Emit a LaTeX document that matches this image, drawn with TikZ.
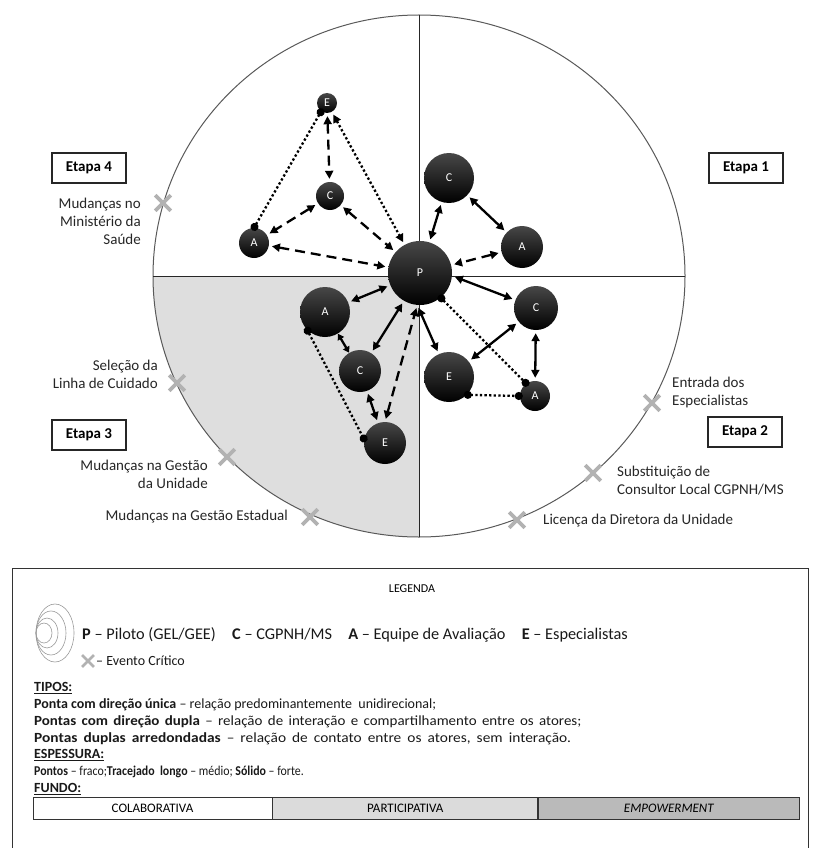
\documentclass[tikz,border=0pt]{standalone}
\usepackage{fontspec}
\setmainfont{Carlito}
\usetikzlibrary{arrows.meta}
\usetikzlibrary{shapes.misc}
\usetikzlibrary{positioning}

\tikzset{
  ator/.style={circle, top color=black!72, bottom color=black, text=white,
    font=\fontsize{12}{14}\selectfont, inner sep=0pt, minimum size=#1},
  etapa/.style={draw=black!85, line width=1.1pt, minimum width=74pt,
    minimum height=30pt, font=\fontsize{15}{18}\selectfont\bfseries},
  evento/.style={cross out, draw=black!30, line width=3.6pt, minimum size=12pt,
    inner sep=0pt},
  rotulo/.style={font=\fontsize{15}{18}\selectfont, text=black!85, inner sep=0pt},
  liga/.style={line width=2.3pt, shorten >=3pt, shorten <=3pt},
  forte/.style={liga, {Triangle[length=8pt,width=8pt]}-{Triangle[length=8pt,width=8pt]}},
  medio/.style={liga, dash pattern=on 10pt off 6pt,
    {Triangle[length=8pt,width=8pt]}-{Triangle[length=8pt,width=8pt]}},
  fraco/.style={liga, dash pattern=on 2.3pt off 2.3pt,
    {Triangle[length=8pt,width=8pt]}-{Triangle[length=8pt,width=8pt]}},
  contato/.style={line width=2.3pt, dash pattern=on 2.3pt off 2.3pt,
    shorten >=-3pt, shorten <=-3pt, {Circle[length=8pt]}-{Circle[length=8pt]}},
  texto/.style={anchor=west, font=\fontsize{14}{16}\selectfont, text=black!90, inner sep=0pt},
  celula/.style={draw=black!80, line width=0.8pt, minimum height=22pt,
    font=\fontsize{13}{15}\selectfont, inner sep=0pt},
}

\begin{document}
\begin{tikzpicture}[x=1pt, y=-1pt]
  \useasboundingbox (0,0) rectangle (819,848);

  % Background quadrant
  \fill[black!13] (419,276) -- (153,276)
    arc[start angle=180, end angle=90, x radius=266, y radius=261] -- cycle;

  % Circle and axes
  \draw[black!65, line width=1pt] (419,276) ellipse [x radius=266, y radius=261];
  \draw[black!85, line width=1pt] (419,15) -- (419,537);
  \draw[black!85, line width=1pt] (153,276) -- (685,276);

  % Stages
  \node[etapa] (etapa1) at (746,168) {Etapa 1};
  \node[etapa] (etapa2) at (745,432) {Etapa 2};
  \node[etapa] (etapa3) at (89,435) {Etapa 3};
  \node[etapa] (etapa4) at (89,168) {Etapa 4};

  % Critical events
  \node[evento] (ev1) at (163,203) {};
  \node[evento] (ev2) at (177,383) {};
  \node[evento] (ev3) at (227,457) {};
  \node[evento] (ev4) at (310,517) {};
  \node[evento] (ev5) at (652,403) {};
  \node[evento] (ev6) at (593,473) {};
  \node[evento] (ev7) at (517,520) {};
  \node[rotulo, align=right, anchor=east] at (141,221)
    {Mudanças no\\Ministério da\\Saúde};
  \node[rotulo, align=right, anchor=east] at (158,374)
    {Seleção da\\Linha de Cuidado};
  \node[rotulo, align=right, anchor=east] at (208,474)
    {Mudanças na Gestão\\da Unidade};
  \node[rotulo, anchor=east] at (288,517) {Mudanças na Gestão Estadual};
  \node[rotulo, align=left, anchor=west] at (672,392)
    {Entrada dos\\Especialistas};
  \node[rotulo, align=left, anchor=west] at (617,481)
    {Substituição de\\Consultor Local CGPNH/MS};
  \node[rotulo, anchor=west] at (543,521) {Licença da Diretora da Unidade};

  % Actors
  \node[ator=64] (p) at (420,273) {P};
  \node[ator=50] (c1) at (449,178) {C};
  \node[ator=42] (a1) at (522,247) {A};
  \node[ator=44] (c2) at (536,308) {C};
  \node[ator=50] (e2) at (449,377) {E};
  \node[ator=30] (a2) at (535,396) {A};
  \node[ator=50] (a3) at (325,312) {A};
  \node[ator=42] (c3) at (360,371) {C};
  \node[ator=42] (e3) at (385,443) {E};
  \node[ator=20] (e4) at (327,103) {E};
  \node[ator=28] (c4) at (330,196) {C};
  \node[ator=30] (a4) at (254,243) {A};

  % Relations
  \draw[forte] (c1) -- (p);
  \draw[forte] (c1) -- (a1);
  \draw[medio] (a1) -- (p);

  \draw[forte] (p.-5) -- (c2);
  \draw[forte] (p.-95) -- (e2);
  \draw[forte] (c2) -- (e2);
  \draw[forte] (c2) -- (a2);
  \draw[contato] (p.-50) -- (a2.125);
  \draw[contato] (e2.-45) -- (a2.180);

  \draw[forte] (a3) -- (p);
  \draw[forte, shorten >=0pt, shorten <=0pt,
    {Triangle[length=6pt,width=7pt]}-{Triangle[length=6pt,width=7pt]}] (a3) -- (c3);
  \draw[forte] (c3) -- (p.240);
  \draw[forte] (c3) -- (e3);
  \draw[medio] (e3.north) -- (p.265);
  \draw[contato] (a3.225) -- (e3.170);

  \draw[medio] (e4) -- (c4);
  \draw[contato] (e4.235) -- (a4.90);
  \draw[fraco] (e4) -- (p);
  \draw[medio] (c4) -- (a4);
  \draw[medio] (c4) -- (p);
  \draw[medio] (a4) -- (p);

  % Legend
  \draw[black!80, line width=0.8pt] (12,568) rectangle (808,852);
  \node[font=\fontsize{12}{14}\selectfont] (legenda) at (412,589) {LEGENDA};
  \foreach \rx/\ry in {19/29, 15/22, 11/15, 8/10}
    \draw[black!40, line width=0.6pt] (36+\rx,633) ellipse [x radius=\rx, y radius=\ry];
  \node[texto, font=\fontsize{16.3}{18}\selectfont] (atores) at (82,635)
    {\textbf{P} – Piloto (GEL/GEE)\quad \textbf{C} – CGPNH/MS\quad
     \textbf{A} – Equipe de Avaliação\quad \textbf{E} – Especialistas};
  \node[evento, line width=2.8pt, minimum size=9pt] (evleg) at (88,661) {};
  \node[texto] (evtxt) at (96,661) {– Evento Crítico};

  \node[texto] (tipos) at (34,688) {\textbf{\underline{TIPOS:}}};
  \node[texto] (unica) at (34,705)
    {\textbf{Ponta com direção única} – relação predominantemente\ \ unidirecional;};
  \node[texto] (dupla) at (34,722)
    {\scalebox{1.07}[1]{\spaceskip=5pt plus 1pt\relax
     \textbf{Pontas com direção dupla} – relação de interação e compartilhamento entre os atores;}};
  \node[texto] (arred) at (34,739)
    {\scalebox{1.1}[1]{\spaceskip=5.5pt plus 1pt\relax
     \textbf{Pontas duplas arredondadas} – relação de contato entre os atores, sem interação.}};
  \node[texto] (espessura) at (34,755) {\textbf{\underline{ESPESSURA:}}};
  \node[texto, font=\fontsize{13.5}{15}\selectfont] (pontos) at (34,772)
    {\scalebox{0.88}[1]{\textbf{Pontos} – fraco;\textbf{Tracejado\ \ longo} – médio; \textbf{Sólido} – forte.}};
  \node[texto] (fundo) at (34,789) {\textbf{\underline{FUNDO:}}};

  \node[celula, fill=white, minimum width=239pt] (colab) at (152.5,808) {COLABORATIVA};
  \node[celula, fill=black!14, minimum width=265pt, right=0pt of colab] (partic) {PARTICIPATIVA};
  \node[celula, fill=black!27, minimum width=261pt, right=0pt of partic] (empow) {\textit{EMPOWERMENT}};
\end{tikzpicture}
\end{document}
